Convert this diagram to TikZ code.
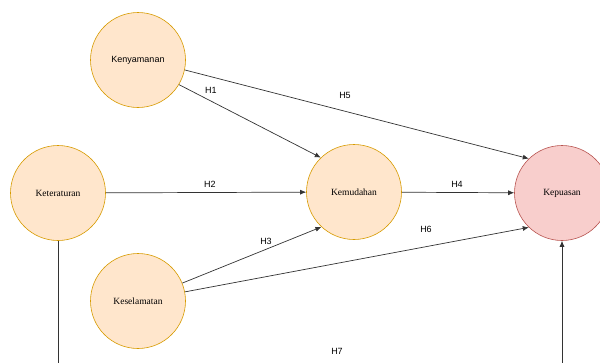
\documentclass[tikz,border=0pt]{standalone}
\usepackage{fontspec}
\setmainfont{Liberation Serif}
\setsansfont{Liberation Sans}
\usetikzlibrary{arrows.meta}
\definecolor{ofill}{HTML}{FFE6CC}
\definecolor{oline}{HTML}{D79B00}
\definecolor{rfill}{HTML}{F8CECC}
\definecolor{rline}{HTML}{B85450}
\definecolor{edge}{HTML}{333333}
\tikzset{
  var/.style={circle, draw=oline, fill=ofill, line width=0.6pt, minimum size=95pt, inner sep=0pt, font=\fontsize{9.5}{11}\selectfont},
  outvar/.style={var, draw=rline, fill=rfill},
  link/.style={draw=edge, line width=0.7pt, -{Latex[length=6pt,width=5pt]}},
  hlab/.style={font=\sffamily\fontsize{9}{10}\selectfont, text=black, inner sep=1pt}
}
\begin{document}
\begin{tikzpicture}[x=1pt,y=-1pt]
\useasboundingbox (0,0) rectangle (600,362);
\clip (0,0) rectangle (600,362);
\node[var, font=\sffamily\fontsize{9}{11}\selectfont] (ken) at (138,60) {Kenyamanan};
\node[var] (ket) at (58,193) {Keteraturan};
\node[var] (kes) at (138,301) {Keselamatan};
\node[var] (kem) at (354,192) {Kemudahan};
\node[outvar] (kep) at (562,193) {Kepuasan};
\draw[link] (ken.-31) -- (kem.134);
\draw[link] (ken.-12) -- (kep.134);
\draw[link] (ket) -- (kem);
\draw[link] (kem) -- (kep);
\draw[link] (kes.22) -- (kem.-133);
\draw[link] (kes.11) -- (kep.-134);
\coordinate (b1) at (58,395);
\coordinate (b2) at (562,395);
\draw[link] (ket.south) -- (b1) -- (b2) -- (kep.south);
\node[hlab] (h1) at (211,90) {H1};
\node[hlab] (h5) at (345,95) {H5};
\node[hlab] (h2) at (210,184) {H2};
\node[hlab] (h4) at (457,184) {H4};
\node[hlab] (h3) at (266,241) {H3};
\node[hlab] (h6) at (426,229) {H6};
\node[hlab] (h7) at (337,351) {H7};
\end{tikzpicture}
\end{document}
